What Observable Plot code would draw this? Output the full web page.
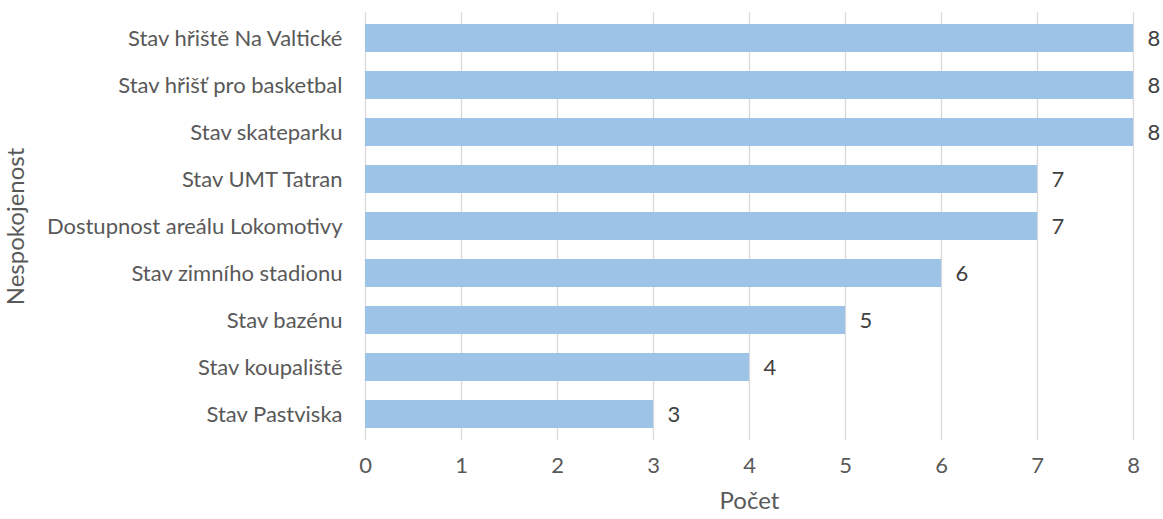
<!DOCTYPE html>
<html><head><meta charset="utf-8">
<script src="https://cdn.jsdelivr.net/npm/d3@7"></script>
<script src="https://cdn.jsdelivr.net/npm/@observablehq/plot@0.6"></script>
<style>
body{margin:0;background:#fff;}
#chart{width:1163px;height:519px;}
</style></head>
<body><div id="chart"></div>
<script>
const categories = ["Stav hřiště Na Valtické","Stav hřišť pro basketbal","Stav skateparku","Stav UMT Tatran","Dostupnost areálu Lokomotivy","Stav zimního stadionu","Stav bazénu","Stav koupaliště","Stav Pastviska"];
const values = [8,8,8,7,7,6,5,4,3];
const xTicks = [0,1,2,3,4,5,6,7,8];
const xTitle = "Počet";
const yTitle = "Nespokojenost";

const data = categories.map((c,i)=>({cat:c, val:values[i]}));
const font = "Lato, 'Open Sans', sans-serif";
const fs = 22;
const plot = Plot.plot({
  width: 1163, height: 519,
  marginLeft: 365, marginRight: 30, marginTop: 12, marginBottom: 79,
  style: {fontFamily: font, fontSize: fs + "px", color: "#595959", background: "#fff"},
  x: {domain: [0,8], ticks: xTicks, grid: false},
  y: {domain: categories, paddingInner: 0.41, paddingOuter: 0.205},
  marks: [
    Plot.ruleX(xTicks, {stroke: "#D9D9D9", strokeWidth: 1.3, strokeOpacity: 1}),
    Plot.barX(data, {x: "val", y: "cat", fill: "#9DC3E6"}),
    Plot.text(data, {x: "val", y: "cat", text: d => String(d.val), textAnchor: "start", dx: 14, fill: "#404040", fontSize: fs}),
    Plot.axisX({ticks: xTicks, tickSize: 0, tickPadding: 17, label: null, fill: "#595959", fontSize: fs}),
    Plot.axisY({tickSize: 0, tickPadding: 23, label: null, fill: "#595959", fontSize: fs}),
    Plot.text([xTitle], {frameAnchor: "bottom", dy: 68, text: d => d, fill: "#595959", fontSize: 24}),
    Plot.text([yTitle], {x: 0, frameAnchor: "left", textAnchor: "middle", dx: -349, rotate: -90, text: d => d, fill: "#595959", fontSize: 24})
  ]
});
document.getElementById("chart").appendChild(plot);
</script>
</body></html>
